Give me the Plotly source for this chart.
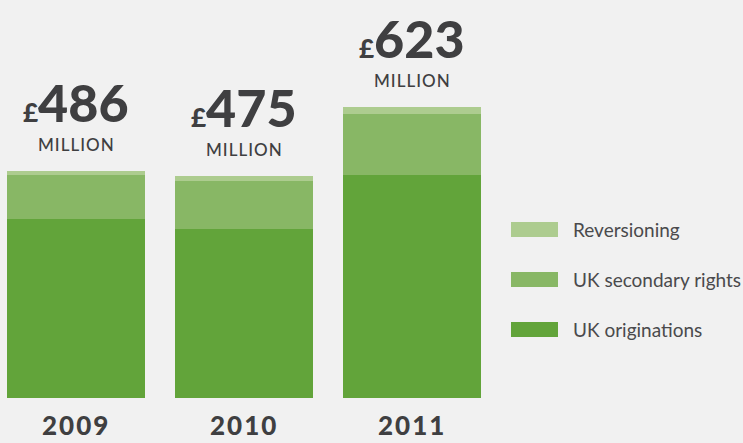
import plotly.graph_objects as go

# Revenue by year, £ million
years = ["2009", "2010", "2011"]
uk_originations = [384, 362, 479]
uk_secondary_rights = [93, 104, 129]
reversioning = [9, 9, 15]
totals = [a + b + c for a, b, c in zip(uk_originations, uk_secondary_rights, reversioning)]

series_names = ["UK originations", "UK secondary rights", "Reversioning"]
series_colors = ["#62a43a", "#88b765", "#adcc8f"]
series_values = [uk_originations, uk_secondary_rights, reversioning]

W, H = 743, 443
M_L, M_R, M_T, M_B = 0, 243, 0, 45
PLOT_W = W - M_L - M_R
PLOT_H = H - M_T - M_B

TEXT = "#3f3f41"
FONT = "Lato"

x_pos = list(range(len(years)))

fig = go.Figure()
for name, color, vals in zip(series_names, series_colors, series_values):
    fig.add_trace(go.Bar(
        x=x_pos, y=vals, name=name, width=0.82,
        marker=dict(color=color, line=dict(width=0)),
        showlegend=False, hoverinfo="skip",
    ))

annotations = []
for xi, yr, tot in zip(x_pos, years, totals):
    # total value above each stack
    annotations.append(dict(
        x=xi, y=tot, xref="x", yref="y", yanchor="middle", yshift=69,
        text=f"<span style='font-size:26px'>£</span>{tot}",
        showarrow=False,
        font=dict(family=FONT, size=52, color=TEXT, weight=900),
    ))
    annotations.append(dict(
        x=xi, y=tot, xref="x", yref="y", yanchor="middle", yshift=27,
        text="<span style='letter-spacing:1px'>MILLION</span>",
        showarrow=False,
        font=dict(family=FONT, size=17, color=TEXT, weight=500),
    ))
    # year label under each bar
    annotations.append(dict(
        x=xi, y=0, xref="x", yref="y", yanchor="middle", yshift=-27,
        text=f"<span style='letter-spacing:2px'>{yr}</span>",
        showarrow=False,
        font=dict(family=FONT, size=26, color=TEXT, weight=900),
    ))


def px_x(p):
    return (p - M_L) / PLOT_W


def px_y(p):
    return (H - M_B - p) / PLOT_H


# custom legend: wide swatches with labels, top to bottom
shapes = []
legend_rows = list(zip(series_names, series_colors))[::-1]
for i, (name, color) in enumerate(legend_rows):
    top = 222 + 50 * i
    shapes.append(dict(
        type="rect", xref="paper", yref="paper",
        x0=px_x(511), x1=px_x(558), y0=px_y(top + 15), y1=px_y(top),
        fillcolor=color, line=dict(width=0), layer="above",
    ))
    annotations.append(dict(
        x=px_x(571), y=px_y(top + 7.5), xref="paper", yref="paper",
        xanchor="left", yanchor="middle", text=name, showarrow=False,
        font=dict(family=FONT, size=19, color="#4a4a4c", weight=400),
    ))

fig.update_layout(
    width=W, height=H,
    margin=dict(l=M_L, r=M_R, t=M_T, b=M_B, pad=0),
    barmode="stack",
    paper_bgcolor="#f1f1f1", plot_bgcolor="#f1f1f1",
    xaxis=dict(range=[-76 / 168, 424 / 168], visible=False, fixedrange=True),
    yaxis=dict(range=[0, PLOT_H / 0.4665], visible=False, fixedrange=True),
    annotations=annotations, shapes=shapes,
    showlegend=False,
)

fig.write_html("out.html", config={"displayModeBar": False})
